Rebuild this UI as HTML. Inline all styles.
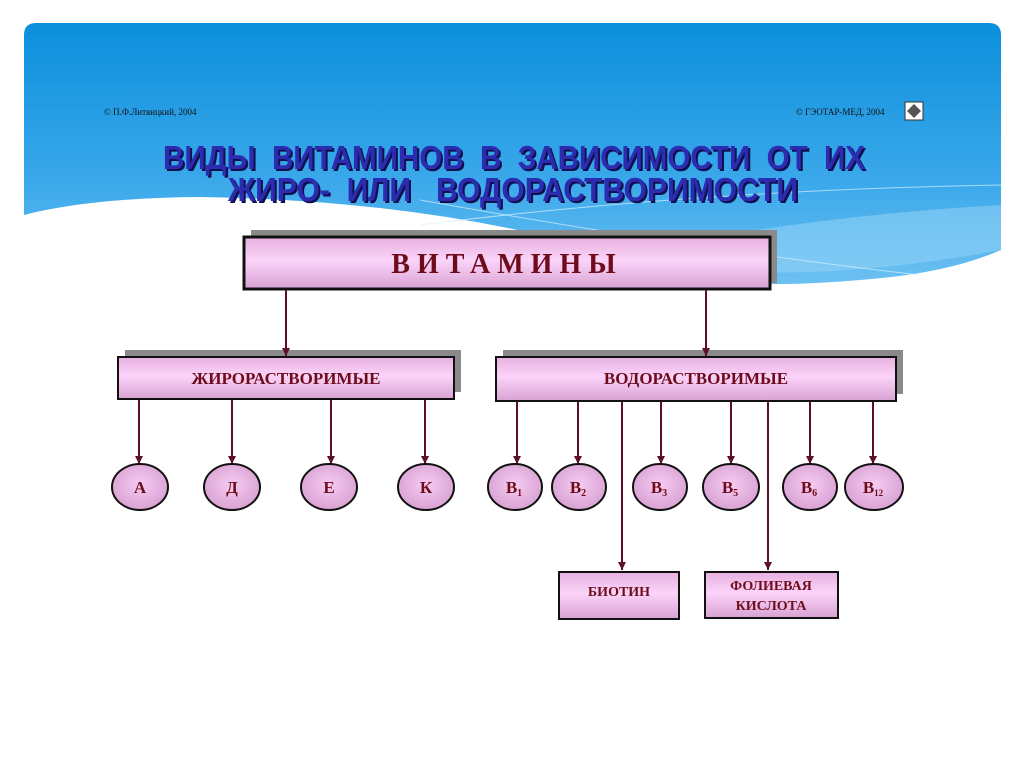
<!DOCTYPE html>
<html><head><meta charset="utf-8"><style>
html,body{margin:0;padding:0;background:#fff;width:1024px;height:767px;overflow:hidden}
svg{display:block}
text{white-space:pre}
</style></head><body>
<svg width="1024" height="767" viewBox="0 0 1024 767" xmlns="http://www.w3.org/2000/svg">
<defs>
<linearGradient id="sky" x1="0" y1="0" x2="0" y2="1">
<stop offset="0" stop-color="#0b8fdc"/><stop offset="0.6" stop-color="#3aa8ea"/><stop offset="1" stop-color="#6cc0f2"/>
</linearGradient>
<linearGradient id="pink" x1="0" y1="0" x2="0" y2="1">
<stop offset="0" stop-color="#e6b0de"/><stop offset="0.45" stop-color="#fbd4fa"/><stop offset="1" stop-color="#d8a2d2"/>
</linearGradient>
<radialGradient id="pinkr" cx="0.5" cy="0.45" r="0.6">
<stop offset="0" stop-color="#f6ccf2"/><stop offset="1" stop-color="#d69ed0"/>
</radialGradient>
<marker id="ar" markerWidth="8" markerHeight="8" refX="8" refY="4" orient="auto" markerUnits="userSpaceOnUse">
<path d="M0,0 L8,4 L0,8 Z" fill="#5e0f2c"/>
</marker>
</defs>
<rect x="0" y="0" width="1024" height="767" fill="#fff"/>
<path d="M24,35 Q24,23 36,23 L989,23 Q1001,23 1001,35 L1001,250 Q960,268 900,276 Q820,285 760,284 Q700,280 600,250 Q420,200 200,197 Q90,198 24,215 Z" fill="url(#sky)"/>
<path d="M600,250 Q760,295 1001,250 L1001,205 Q820,215 640,250 Z" fill="#9ad6f8" opacity="0.5"/>
<path d="M420,225 Q700,190 1001,185" stroke="#d8f0ff" stroke-width="1" fill="none" opacity="0.7"/>
<path d="M420,200 Q700,250 920,275" stroke="#d8f0ff" stroke-width="1" fill="none" opacity="0.7"/>

<g font-family="Liberation Serif, serif" font-size="9" fill="#111">
<text x="104" y="115">© П.Ф.Литвицкий, 2004</text>
<text x="796" y="115">© ГЭОТАР-МЕД, 2004</text>
</g>
<rect x="905" y="102" width="18" height="18" fill="#fff" stroke="#333"/>
<path d="M914,104 L921,111 L914,118 L907,111 Z" fill="#555"/>

<g font-family="Liberation Sans, sans-serif" font-weight="bold" font-size="33" xml:space="preserve">
<text x="165" y="171" textLength="702" lengthAdjust="spacingAndGlyphs" fill="#101050">ВИДЫ  ВИТАМИНОВ  В  ЗАВИСИМОСТИ  ОТ  ИХ</text>
<text x="163" y="169" textLength="702" lengthAdjust="spacingAndGlyphs" fill="#2c2cb0">ВИДЫ  ВИТАМИНОВ  В  ЗАВИСИМОСТИ  ОТ  ИХ</text>
<text x="230" y="203" textLength="570" lengthAdjust="spacingAndGlyphs" fill="#101050">ЖИРО-  ИЛИ   ВОДОРАСТВОРИМОСТИ</text>
<text x="228" y="201" textLength="570" lengthAdjust="spacingAndGlyphs" fill="#2c2cb0">ЖИРО-  ИЛИ   ВОДОРАСТВОРИМОСТИ</text>
</g>

<rect x="251" y="230" width="526" height="53" fill="#8a8a8a"/>
<rect x="244" y="237" width="526" height="52" fill="url(#pink)" stroke="#111" stroke-width="3"/>
<text x="507" y="273" text-anchor="middle" font-family="Liberation Serif, serif" font-weight="bold" font-size="28" letter-spacing="7" fill="#6e0c1c">ВИТАМИНЫ</text>

<rect x="125" y="350" width="336" height="42" fill="#8a8a8a"/>
<rect x="118" y="357" width="336" height="42" fill="url(#pink)" stroke="#111" stroke-width="2"/>
<text x="286" y="384" text-anchor="middle" font-family="Liberation Serif, serif" font-weight="bold" font-size="17" fill="#6e0c1c">ЖИРОРАСТВОРИМЫЕ</text>

<rect x="503" y="350" width="400" height="44" fill="#8a8a8a"/>
<rect x="496" y="357" width="400" height="44" fill="url(#pink)" stroke="#111" stroke-width="2"/>
<text x="696" y="384" text-anchor="middle" font-family="Liberation Serif, serif" font-weight="bold" font-size="17" fill="#6e0c1c">ВОДОРАСТВОРИМЫЕ</text>

<g stroke="#5e0f2c" stroke-width="2" marker-end="url(#ar)">
<line x1="286" y1="290" x2="286" y2="356"/>
<line x1="706" y1="290" x2="706" y2="356"/>
<line x1="139" y1="400" x2="139" y2="464"/>
<line x1="232" y1="400" x2="232" y2="464"/>
<line x1="331" y1="400" x2="331" y2="464"/>
<line x1="425" y1="400" x2="425" y2="464"/>
<line x1="517" y1="402" x2="517" y2="464"/>
<line x1="578" y1="402" x2="578" y2="464"/>
<line x1="661" y1="402" x2="661" y2="464"/>
<line x1="731" y1="402" x2="731" y2="464"/>
<line x1="810" y1="402" x2="810" y2="464"/>
<line x1="873" y1="402" x2="873" y2="464"/>
<line x1="622" y1="402" x2="622" y2="570"/>
<line x1="768" y1="402" x2="768" y2="570"/>
</g>

<g fill="url(#pinkr)" stroke="#111" stroke-width="2">
<ellipse cx="140" cy="487" rx="28" ry="23"/>
<ellipse cx="232" cy="487" rx="28" ry="23"/>
<ellipse cx="329" cy="487" rx="28" ry="23"/>
<ellipse cx="426" cy="487" rx="28" ry="23"/>
<ellipse cx="515" cy="487" rx="27" ry="23"/>
<ellipse cx="579" cy="487" rx="27" ry="23"/>
<ellipse cx="660" cy="487" rx="27" ry="23"/>
<ellipse cx="731" cy="487" rx="28" ry="23"/>
<ellipse cx="810" cy="487" rx="27" ry="23"/>
<ellipse cx="874" cy="487" rx="29" ry="23"/>
</g>
<g font-family="Liberation Serif, serif" font-weight="bold" font-size="17" fill="#6e0c1c" text-anchor="middle">
<text x="140" y="493">А</text><text x="232" y="493">Д</text><text x="329" y="493">Е</text><text x="426" y="493">К</text>
<text x="514" y="493">B<tspan font-size="10" dy="3">1</tspan></text>
<text x="578" y="493">B<tspan font-size="10" dy="3">2</tspan></text>
<text x="659" y="493">B<tspan font-size="10" dy="3">3</tspan></text>
<text x="730" y="493">B<tspan font-size="10" dy="3">5</tspan></text>
<text x="809" y="493">B<tspan font-size="10" dy="3">6</tspan></text>
<text x="873" y="493">B<tspan font-size="9" dy="3">12</tspan></text>
</g>

<rect x="559" y="572" width="120" height="47" fill="url(#pink)" stroke="#111" stroke-width="2"/>
<text x="619" y="596" text-anchor="middle" font-family="Liberation Serif, serif" font-weight="bold" font-size="14" fill="#6e0c1c">БИОТИН</text>
<rect x="705" y="572" width="133" height="46" fill="url(#pink)" stroke="#111" stroke-width="2"/>
<text x="771" y="590" text-anchor="middle" font-family="Liberation Serif, serif" font-weight="bold" font-size="14" fill="#6e0c1c">ФОЛИЕВАЯ</text>
<text x="771" y="610" text-anchor="middle" font-family="Liberation Serif, serif" font-weight="bold" font-size="14" fill="#6e0c1c">КИСЛОТА</text>
</svg>
</body></html>
